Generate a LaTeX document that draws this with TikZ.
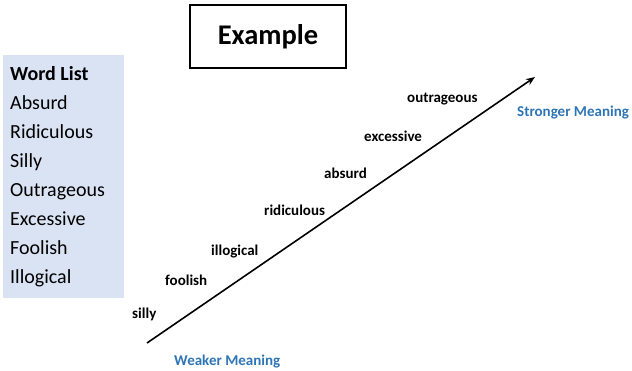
\documentclass[tikz,border=0pt]{standalone}
\usepackage{fontspec}
\setmainfont{Carlito}
\usepackage{xcolor}
\usepackage{tikz}
\usetikzlibrary{arrows.meta}

\definecolor{listblue}{RGB}{218,227,243}
\definecolor{meaningblue}{RGB}{46,117,182}

\begin{document}
\begin{tikzpicture}[x=1pt,y=-1pt,
    listword/.style={anchor=base west,inner sep=0pt,font=\fontsize{20}{24}\selectfont},
    scaleword/.style={anchor=base west,inner sep=0pt,font=\fontsize{15}{18}\selectfont\bfseries},
    meaning/.style={anchor=base west,inner sep=0pt,text=meaningblue,font=\fontsize{15}{18}\selectfont\bfseries}]
      \useasboundingbox (0,0) rectangle (632,370);

      % Title box
      \node[draw,line width=1.2pt,minimum width=156pt,minimum height=63pt,
            font=\fontsize{28.5}{32}\selectfont\bfseries] (title) at (268,36.5) {Example};

      % Word list background
      \fill[listblue] (3,55) rectangle (124,298);

      % Word list
      \node[listword,font=\fontsize{20}{24}\selectfont\bfseries] (head) at (10,80.5) {Word List};
      \node[listword] (lAbsurd) at (10,109.5) {Absurd};
      \node[listword] (lRidiculous) at (10,138.5) {Ridiculous};
      \node[listword] (lSilly) at (10,167.5) {Silly};
      \node[listword] (lOutrageous) at (10,196.5) {Outrageous};
      \node[listword] (lExcessive) at (10,225.5) {Excessive};
      \node[listword] (lFoolish) at (10,254.5) {Foolish};
      \node[listword] (lIllogical) at (10,283.5) {Illogical};

      % Scale arrow
      \coordinate (weak) at (147,343);
      \coordinate (strong) at (535,77);
      \draw[line width=1.6pt,-{Stealth[length=9pt,width=7pt]}] (weak) -- (strong);

      % Words along the scale
      \node[scaleword] (silly) at (132,318) {silly};
      \node[scaleword] (foolish) at (165,285) {foolish};
      \node[scaleword] (illogical) at (211,255) {illogical};
      \node[scaleword] (ridiculous) at (264,215.5) {ridiculous};
      \node[scaleword] (absurd) at (324,178) {absurd};
      \node[scaleword] (excessive) at (364,141) {excessive};
      \node[scaleword] (outrageous) at (407,102.5) {outrageous};

      % Ends of the scale
      \node[meaning] (weaker) at (174,365) {Weaker Meaning};
      \node[meaning] (stronger) at (517,116.5) {Stronger Meaning};

\end{tikzpicture}
\end{document}
